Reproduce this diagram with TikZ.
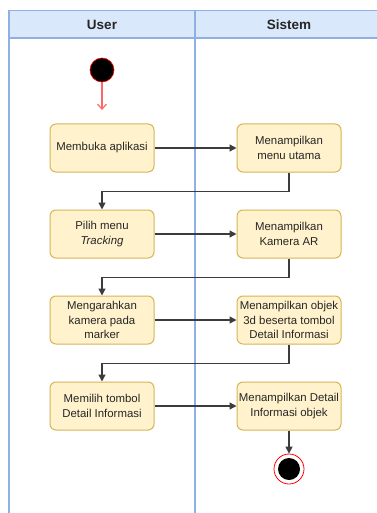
\documentclass[tikz,border=0pt]{standalone}
\usepackage{fontspec}
\setmainfont{Liberation Sans}
\usetikzlibrary{arrows.meta}
\definecolor{poolline}{HTML}{8FB0E3}
\definecolor{headfill}{HTML}{DAE8FC}
\definecolor{actfill}{HTML}{FFF2CC}
\definecolor{actline}{HTML}{D6B656}
\definecolor{flow}{HTML}{3C3C3C}
\definecolor{startred}{HTML}{FF6666}
\begin{document}
\begin{tikzpicture}[x=1pt,y=-1pt,
  act/.style={draw=actline, fill=actfill, rounded corners=6pt, line width=1pt,
    minimum width=104pt, minimum height=48pt, align=center,
    inner sep=0.5pt, text=black!85, font=\fontsize{11.4}{14.3}\selectfont},
  flowline/.style={draw=flow, line width=1.3pt, -{Triangle[length=7pt,width=7pt]}},
  startline/.style={draw=startred, line width=1.2pt, -{Straight Barb[length=5pt,width=9pt]}},
  lanehead/.style={font=\fontsize{13.5}{16}\selectfont\bfseries, text=black!85},
  pool/.style={draw=poolline, line width=1.2pt}]
\useasboundingbox (0,0) rectangle (376,513);
\fill[white] (0,0) rectangle (376,513);
% pool
\fill[headfill] (9,10.7) rectangle (380,38);
\draw[pool] (380,10.7) -- (9,10.7) -- (9,515);
\draw[pool] (9,38) -- (380,38);
\draw[pool] (195,10.7) -- (195,515);
\node[lanehead] (huser) at (102,24.5) {User};
\node[lanehead] (hsys) at (289,24.5) {Sistem};
% start
\node[circle, fill=black, draw=red, line width=0.6pt, minimum size=24pt, inner sep=0pt] (start) at (102,70) {};
\coordinate (startend) at (102,110);
% activities
\node[act] (a1) at (102,148) {Membuka aplikasi};
\node[act] (s1) at (289,148) {Menampilkan\\menu utama};
\node[act] (a2) at (102,234) {Pilih menu\\\textit{Tracking}};
\node[act] (s2) at (289,234) {Menampilkan\\Kamera AR};
\node[act] (a3) at (102,320) {Mengarahkan\\kamera pada\\marker};
\node[act] (s3) at (289,320) {Menampilkan objek\\3d beserta tombol\\Detail Informasi};
\node[act] (a4) at (102,406) {Memilih tombol\\Detail Informasi};
\node[act] (s4) at (289,406) {Menampilkan Detail\\Informasi objek};
% end
\node[circle, fill=white, draw=red, line width=0.8pt, minimum size=30pt, inner sep=0pt] (end) at (289,469) {};
\node[circle, fill=black, minimum size=22pt, inner sep=0pt] (endin) at (end.center) {};
% flows
\draw[startline] (start) -- (startend);
\draw[flowline] (a1) -- (s1);
\draw[flowline] (s1.south) -- ++(0,19) -| (a2.north);
\draw[flowline] (a2) -- (s2);
\draw[flowline] (s2.south) -- ++(0,19) -| (a3.north);
\draw[flowline] (a3) -- (s3);
\draw[flowline] (s3.south) -- ++(0,19) -| (a4.north);
\draw[flowline] (a4) -- (s4);
\draw[flowline] (s4) -- (end);
\end{tikzpicture}
\end{document}
